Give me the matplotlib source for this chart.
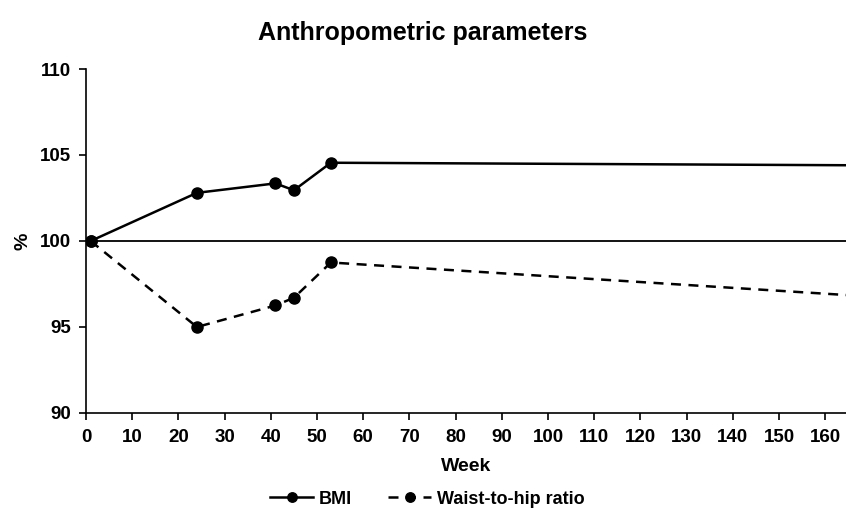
import matplotlib
matplotlib.use("Agg")
import matplotlib.pyplot as plt

plt.rcParams.update({
    "font.family": ["Liberation Sans", "DejaVu Sans"],
    "font.weight": "bold",
    "axes.labelweight": "bold",
})

# data (last point sits past the visible x range)
weeks = [1, 24, 41, 45, 53, 168]
bmi = [100.0, 102.8, 103.35, 102.95, 104.55, 104.4]
whr = [100.0, 95.0, 96.25, 96.7, 98.75, 96.8]
x_ticks = list(range(0, 161, 10))
y_ticks = [90, 95, 100, 105, 110]

fig = plt.figure(figsize=(8.46, 5.32), dpi=100)
ax = fig.add_axes([0.1017, 0.2237, 0.8983, 0.6466])

marks = list(range(len(weeks) - 1))
ax.plot(weeks, bmi, color="black", linewidth=1.8, marker="o", markersize=8,
        markevery=marks, label="BMI")
ax.plot(weeks, whr, color="black", linewidth=1.8, linestyle=(0, (4, 3)),
        marker="o", markersize=8, markevery=marks, label="Waist-to-hip ratio")
ax.axhline(100, color="black", linewidth=1.3, zorder=1)

ax.set_xlim(0, 164.5)
ax.set_ylim(90, 110)
ax.set_xticks(x_ticks)
ax.set_yticks(y_ticks)
ax.tick_params(axis="both", labelsize=13.5, width=1.2, length=5, direction="out")
ax.tick_params(axis="x", pad=6.5)
ax.tick_params(axis="y", pad=6)
for side in ("top", "right"):
    ax.spines[side].set_visible(False)
for side in ("left", "bottom"):
    ax.spines[side].set_linewidth(1.2)
ax.set_xlabel("Week", fontsize=14, labelpad=9)
ax.set_ylabel("%", fontsize=14, labelpad=6)
fig.text(0.5, 0.938, "Anthropometric parameters", ha="center", va="center",
         fontsize=18, fontweight="bold")

fig.legend(loc="center", bbox_to_anchor=(0.505, 0.062), ncol=2, frameon=False,
           fontsize=13, handlelength=2.4, columnspacing=2.0, handletextpad=0.3,
           markerscale=0.85)

fig.savefig("out.png", dpi=100)
